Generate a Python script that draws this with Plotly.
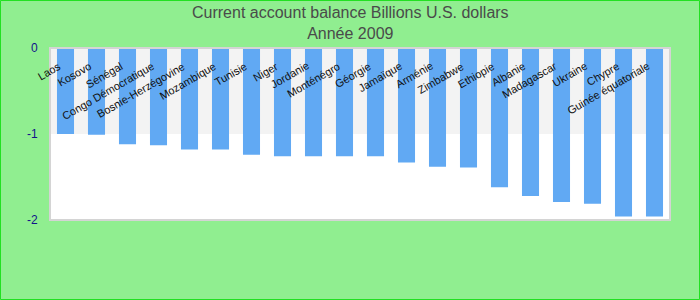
import plotly.graph_objects as go

# Current account balance, billions of U.S. dollars, 2009
countries = [
    "Laos", "Kosovo", "Sénégal", "Congo Démocratique", "Bosnie-Herzégovine",
    "Mozambique", "Tunisie", "Niger", "Jordanie", "Monténégro",
    "Géorgie", "Jamaïque", "Arménie", "Zimbabwe", "Ethiopie",
    "Albanie", "Madagascar", "Ukraine", "Chypre", "Guinée équatoriale",
]
balance = [
    -1.00, -1.01, -1.12, -1.13, -1.18,
    -1.18, -1.24, -1.26, -1.26, -1.26,
    -1.26, -1.33, -1.38, -1.39, -1.62,
    -1.72, -1.79, -1.81, -1.96, -1.96,
]
y_ticks = [0, -1, -2]
title_lines = ["Current account balance Billions U.S. dollars", "Année 2009"]

fig = go.Figure()
fig.add_trace(go.Bar(
    x=countries, y=balance,
    marker=dict(color="#61a9f3", line=dict(width=0)),
    hoverinfo="x+y",
))

W, H = 700, 300
ml, mr, mt, mb = 50, 30, 48, 80
pw, ph = W - ml - mr, H - mt - mb

shapes = [
    # alternating horizontal band behind the bars
    dict(type="rect", xref="paper", yref="y", x0=0, x1=1, y0=0, y1=-1,
         fillcolor="#f3f3f3", line=dict(width=0), layer="below"),
    # plot frame
    dict(type="rect", xref="paper", yref="paper", x0=0, x1=1, y0=0, y1=1,
         fillcolor="rgba(0,0,0,0)", line=dict(color="#d4d4d4", width=2),
         layer="above"),
    # outer border around the whole figure
    dict(type="rect", xref="paper", yref="paper",
         x0=(-ml + 0.5) / pw, x1=(W - ml - 0.5) / pw,
         y0=(-mb + 0.5) / ph, y1=(H - mb - 0.5) / ph,
         fillcolor="rgba(0,0,0,0)", line=dict(color="#22e022", width=1),
         layer="above"),
]

annotations = [
    dict(x=c, y=0, xref="x", yref="y", text=c, showarrow=False,
         textangle=-30, xanchor="right", yanchor="top",
         xshift=0, yshift=-9,
         font=dict(family="Liberation Sans, Arial", size=11, color="#111111"))
    for c in countries
]

# two-line title centred over the figure
annotations.append(dict(
    x=(W / 2 - ml) / pw, y=(H - mb - 2) / ph, xref="paper", yref="paper",
    text="<br>".join(title_lines), showarrow=False,
    xanchor="center", yanchor="top",
    font=dict(family="Liberation Sans, Arial", size=16, color="#4a4a4a"),
))

fig.update_layout(
    width=W, height=H,
    margin=dict(l=ml, r=mr, t=mt, b=mb),
    paper_bgcolor="#90ee90",
    plot_bgcolor="#ffffff",
    bargap=0.45,
    showlegend=False,
    xaxis=dict(showticklabels=False, showgrid=False, zeroline=False,
               range=[-0.5, len(countries) - 0.5], fixedrange=True),
    yaxis=dict(range=[-2, 0], tickvals=y_ticks, ticktext=[str(v) for v in y_ticks],
               showgrid=False, zeroline=False, ticks="outside", ticklen=9,
               tickcolor="rgba(0,0,0,0)",
               tickfont=dict(family="Liberation Sans, Arial", size=12, color="#12128a")),
    shapes=shapes,
    annotations=annotations,
)

fig.write_html("out.html")
